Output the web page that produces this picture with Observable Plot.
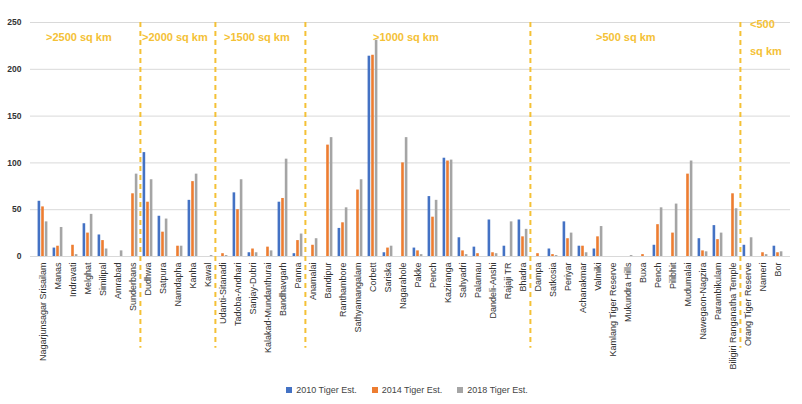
<!DOCTYPE html>
<html>
<head>
<meta charset="utf-8">
<script src="https://cdn.jsdelivr.net/npm/d3@7"></script>
<script src="https://cdn.jsdelivr.net/npm/@observablehq/plot@0.6"></script>
<style>
  html, body { margin: 0; padding: 0; background: #fff; }
  body { width: 802px; height: 404px; overflow: hidden; font-family: "Liberation Sans", Arial, sans-serif; }
  #legend { display: flex; justify-content: center; gap: 15px; margin-top: 4px; font-size: 9px; line-height: 12px; color: #444; padding-left: 12px; }
  #legend span.sw { display: inline-block; width: 6px; height: 6px; margin-right: 4px; vertical-align: 0px; }
</style>
</head>
<body>
<div id="chart"></div>
<div id="legend"></div>
<script>
const reserves = [
  "Nagarjunsagar Srisailam", "Manas", "Indravati", "Melghat", "Similipal", "Amrabad", "Sunderbans",
  "Dudhwa", "Satpura", "Namdapha", "Kanha", "Kawal",
  "Udanti-Sitanadi", "Tadoba-Andhari", "Sanjay-Dubri", "Kalakad-Mundanthurai", "Bandhavgarh", "Panna",
  "Anamalai", "Bandipur", "Ranthambore", "Sathyamangalam", "Corbett", "Sariska", "Nagarahole", "Pakke",
  "Pench", "Kaziranga", "Sahyadri", "Palamau", "Dandeli-Anshi", "Rajaji TR", "Bhadra",
  "Dampa", "Satkosia", "Periyar", "Achanakmar", "Valmiki", "Kamlang Tiger Reserve", "Mukundra Hills",
  "Buxa", "Pench", "Pilibhit", "Mudumalai", "Nawegaon-Nagzira", "Parambikulam", "Biligiri Ranganatha Temple",
  "Orang Tiger Reserve", "Nameri", "Bor"
];
const est2010 = [
  59, 9, 0, 35, 23, 0, 0,
  111, 43, 0, 60, 0,
  0, 68, 4, 0, 58, 3,
  0, 0, 30, 0, 214, 4, 0, 9,
  64, 105, 20, 10, 39, 11, 39,
  0, 8, 37, 11, 8, 0, 0,
  0, 12, 0, 0, 19, 33, 0,
  12, 0, 11
];
const est2014 = [
  53, 11, 12, 25, 17, 0, 67,
  58, 26, 11, 80, 0,
  3, 50, 8, 10, 62, 17,
  12, 119, 36, 71, 215, 9, 100, 6,
  42, 102, 6, 3, 4, 0, 21,
  3, 2, 19, 11, 21, 0, 0,
  2, 34, 25, 88, 6, 18, 67,
  0, 4, 4
];
const est2018 = [
  37, 31, 2, 45, 8, 6, 88,
  82, 40, 11, 88, 1,
  1, 82, 4, 6, 104, 24,
  19, 127, 52, 82, 231, 11, 127, 2,
  60, 103, 2, 0, 3, 37, 29,
  0, 1, 25, 4, 32, 0, 1,
  0, 52, 56, 102, 5, 25, 51,
  20, 2, 5
];
const seriesNames = ["2010 Tiger Est.", "2014 Tiger Est.", "2018 Tiger Est."];
const seriesColors = ["#4472C4", "#ED7D31", "#A5A5A5"];
const yTicks = [0, 50, 100, 150, 200, 250];
// index of the first reserve in each area class
const classStarts = [0, 7, 12, 18, 33, 47];
const classLabels = [">2500 sq km", ">2000 sq km", ">1500 sq km", ">1000 sq km", ">500 sq km", "<500\nsq km"];
const classLabelAt = [0, 7, 12, 22, 37, 47];

const idx = reserves.map((_, i) => i);
const rows = (vals) => idx.map(i => ({i, v: vals[i]}));

const W = 802, H = 380;
const mL = 30, mR = 12;
const step = (W - mL - mR) / reserves.length;
const gold = "#F4C136";
const barW = 2.8, pitch = 3.6;
const insets = [-pitch, 0, pitch].map(off => {
  const left = step / 2 + off - barW / 2;
  return {insetLeft: left, insetRight: step - left - barW};
});
const labelDx = [3, -6, 1, 0, -2, 2];

const marks = [
  Plot.ruleY(yTicks, {stroke: "#D9D9D9", strokeWidth: 1}),
  ...[est2010, est2014, est2018].map((vals, s) =>
    Plot.barY(rows(vals), {x: "i", y: "v", fill: seriesColors[s], ...insets[s]})
  ),
  Plot.ruleX(classStarts.slice(1), {x: d => d, dx: -step / 2, y1: 250, y2: -98, stroke: gold, strokeWidth: 2, strokeDasharray: "5,4"}),
  ...classLabels.map((lab, k) =>
    Plot.text([lab], {
      x: () => classLabelAt[k], text: d => d, frameAnchor: "top", dy: 10, dx: labelDx[k],
      textAnchor: "start", lineAnchor: "middle", lineHeight: 2.45,
      fill: gold, fontWeight: "bold", fontSize: 11
    })
  ),
  Plot.axisY({ticks: yTicks, tickSize: 0, tickPadding: 9, label: null, fontSize: 8.5, fontWeight: "bold", fill: "#333"}),
  Plot.axisX({tickRotate: -90, tickSize: 0, tickPadding: 6, label: null, tickFormat: i => reserves[i], fontSize: 9, fill: "#333"})
];

const chart = Plot.plot({
  width: W, height: H,
  marginLeft: mL, marginRight: mR, marginTop: 22, marginBottom: 124,
  style: {fontFamily: "'Liberation Sans', Arial, sans-serif", background: "#fff"},
  x: {type: "band", domain: idx, padding: 0},
  y: {domain: [0, 250]},
  marks
});
document.getElementById("chart").appendChild(chart);

const legend = document.getElementById("legend");
seriesNames.forEach((n, s) => {
  const item = document.createElement("span");
  item.innerHTML = `<span class="sw" style="background:${seriesColors[s]}"></span>${n}`;
  legend.appendChild(item);
});
</script>
</body>
</html>
